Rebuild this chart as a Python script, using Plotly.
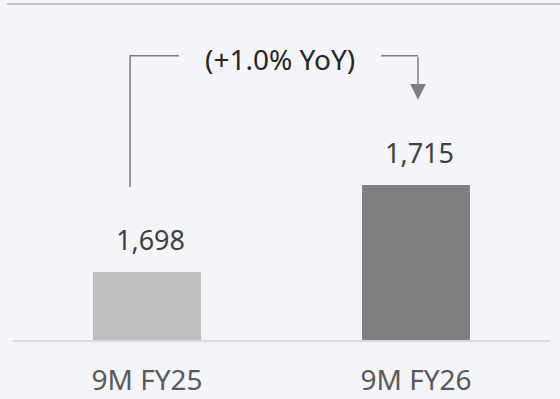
import plotly.graph_objects as go

# Revenue-style comparison: two periods, truncated value axis
categories = ["9M FY25", "9M FY26"]
values = [1698, 1715]
value_labels = ["1,698", "1,715"]
bar_colors = ["#bfbfbf", "#7f7f7f"]
growth_label = "(+1.0% YoY)"

FONT = "Noto Sans, Open Sans, sans-serif"
LINE_GRAY = "#7f7f7f"

fig = go.Figure()
fig.add_trace(go.Bar(
    x=list(range(len(categories))),
    y=values,
    width=0.4015,
    marker=dict(color=bar_colors, line=dict(width=0)),
    hoverinfo="skip",
))

# value labels sitting just above each bar
for i, (v, lab) in enumerate(zip(values, value_labels)):
    fig.add_annotation(
        x=i, y=v, text=lab, showarrow=False,
        yanchor="bottom", yshift=12, xshift=3,
        font=dict(family=FONT, size=27, color="#404040"),
    )

# YoY bracket: rises from above the first bar, runs across, drops onto the second
leg_gap = 16.6
bracket_y = values[1] + 25.2
x_left = -0.063
x_right = 1.0074
fig.add_shape(
    type="path",
    path=f"M {x_left},{values[0] + leg_gap} L {x_left},{bracket_y} L 0.119,{bracket_y}",
    xref="x", yref="y",
    line=dict(color=LINE_GRAY, width=1.6),
)
fig.add_shape(
    type="line", x0=0.870, x1=x_right, y0=bracket_y, y1=bracket_y,
    xref="x", yref="y",
    line=dict(color=LINE_GRAY, width=1.6),
)
fig.add_annotation(
    x=x_right, y=values[1] + leg_gap,
    ax=x_right, ay=bracket_y, axref="x", ayref="y",
    text="", showarrow=True,
    arrowhead=2, arrowsize=2.1, arrowwidth=1.5, arrowcolor=LINE_GRAY,
)
fig.add_annotation(
    x=0.5, y=bracket_y, text=growth_label, showarrow=False,
    yanchor="middle", yshift=-3, xshift=-2,
    font=dict(family=FONT, size=28, color="#262626"),
)

# top rule and baseline
fig.add_shape(type="line", xref="paper", yref="paper",
              x0=7 / 560, x1=1, y0=1 - 4 / 341, y1=1 - 4 / 341,
              line=dict(color="#c4c4c4", width=2))
fig.add_shape(type="line", xref="paper", yref="y domain",
              x0=13 / 560, x1=550 / 560, y0=0, y1=0,
              line=dict(color="#d9d9d9", width=2))

fig.update_layout(
    width=560, height=399,
    margin=dict(l=0, r=0, t=0, b=58),
    paper_bgcolor="#f4f5f9",
    plot_bgcolor="#f4f5f9",
    showlegend=False,
    bargap=0,
    xaxis=dict(
        range=[-0.5465, 1.5353],
        tickvals=list(range(len(categories))),
        ticktext=categories,
        showgrid=False, zeroline=False, showline=False,
        ticks="", ticklabelstandoff=20,
        tickfont=dict(family=FONT, size=28, color="#595959"),
        fixedrange=True,
    ),
    yaxis=dict(
        range=[1684.5, 1751.1],
        visible=False, showgrid=False, zeroline=False,
        fixedrange=True,
    ),
)

fig.write_html("out.html")
